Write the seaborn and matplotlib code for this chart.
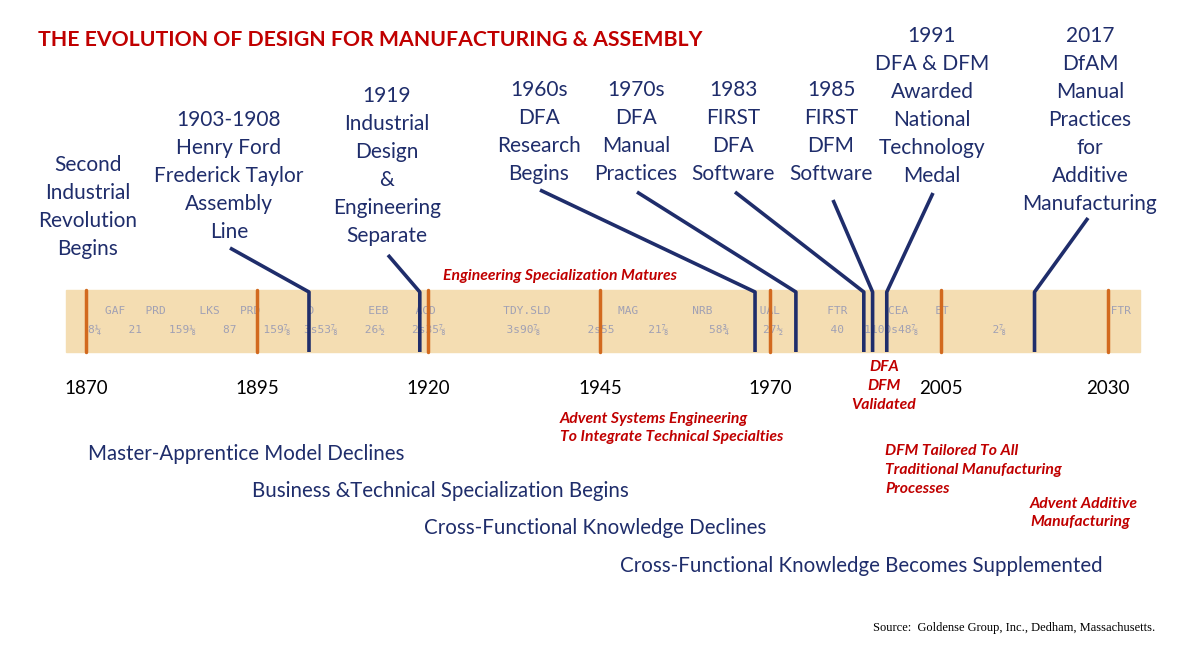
import numpy as np
import matplotlib
matplotlib.use("Agg")
import matplotlib.pyplot as plt
import seaborn as sns

sns.set_theme(style="white")
plt.rcParams['font.family'] = ['Lato', 'DejaVu Sans']

tick_years = [1870, 1895, 1920, 1945, 1970, 2005, 2030]
event_years = [1902.6, 1918.8, 1967.8, 1975.3, 1989.2, 1991.0, 1993.9, 2019.0]
event_labels = [
    "1903-1908\nHenry Ford\nFrederick Taylor\nAssembly\nLine",
    "1919\nIndustrial\nDesign\n&\nEngineering\nSeparate",
    "1960s\nDFA\nResearch\nBegins",
    "1970s\nDFA\nManual\nPractices",
    "1983\nFIRST\nDFA\nSoftware",
    "1985\nFIRST\nDFM\nSoftware",
    "1991\nDFA & DFM\nAwarded\nNational\nTechnology\nMedal",
    "2017\nDfAM\nManual\nPractices\nfor\nAdditive\nManufacturing",
]
first_label = "Second\nIndustrial\nRevolution\nBegins"
red_notes = ["Engineering Specialization Matures",
             "Advent Systems Engineering\nTo Integrate Technical Specialties",
             "DFM Tailored To All\nTraditional Manufacturing\nProcesses",
             "Advent Additive\nManufacturing"]
blue_notes = ["Master-Apprentice Model Declines",
              "Business &Technical Specialization Begins",
              "Cross-Functional Knowledge Declines",
              "Cross-Functional Knowledge Becomes Supplemented"]

NAVY = "#1F2D6B"; RED = "#C00000"; ORANGE = "#D2691E"

slot_px = [86, 257, 428, 600, 770, 941, 1108]
def pos(y):
    return np.interp(y, tick_years, slot_px)

fig = plt.figure(figsize=(12, 6.51), dpi=100)
ax = fig.add_axes([0, 0, 1, 1])
ax.set_xlim(0, 1200); ax.set_ylim(651, 0); ax.axis("off")

ax.text(38, 40, "THE EVOLUTION OF DESIGN FOR MANUFACTURING & ASSEMBLY",
        color=RED, fontsize=15.3, fontweight="bold", va="center")

ax.add_patch(plt.Rectangle((66, 290), 1074, 62, color="#F4DDB2", zorder=1))
ax.text(105, 311, "GAF   PRD     LKS   PRD       D        EEB    ACD          TDY.SLD          MAG        NRB       UAL       FTR      CEA    ET                        FTR",
        color="#a0a0b4", fontsize=8, family="DejaVu Sans Mono", va="center", zorder=2)
ax.text(88, 330, "8¼    21    159⅛    87    159⅞  3s53⅞    26½    2s35⅞         3s90⅞       2s55     21⅞      58¾     27½       40   1100s48⅞           2⅞",
        color="#a0a0b4", fontsize=8, family="DejaVu Sans Mono", va="center", zorder=2)

for ty in tick_years:
    ax.plot([pos(ty)] * 2, [290, 352], color=ORANGE, lw=2.5, zorder=3)
    ax.text(pos(ty), 388, str(ty), ha="center", va="center", fontsize=13.5, color="black")

tops = [(230, 248), (388, 255), (540, 190), (637, 192), (735, 192), (833, 200), (933, 193), (1088, 218)]
label_xy = [(229, 176), (387, 166), (539, 132), (636, 132), (733, 132), (831, 132), (932, 106), (1090, 120)]
for yr, lab, (tx, ty), (lx, ly) in zip(event_years, event_labels, tops, label_xy):
    x = pos(yr)
    ax.plot([tx, x, x], [ty, 292, 352], color=NAVY, lw=2.6, zorder=4, solid_capstyle="butt")
    ax.text(lx, ly, lab, ha="center", va="center", color=NAVY, fontsize=15, linespacing=1.5)
ax.text(88, 207, first_label, ha="center", va="center", color=NAVY, fontsize=15, linespacing=1.5)

rk = dict(color=RED, fontsize=11.3, fontweight="bold", style="italic", va="center", linespacing=1.45)
ax.text(443, 276, red_notes[0], **rk)
ax.text(884, 386, "DFA\nDFM\nValidated", ha="center", **rk)
ax.text(560, 428, red_notes[1], **rk)
ax.text(885, 470, red_notes[2], **rk)
ax.text(1030, 513, red_notes[3], **rk)

for (x, y), t in zip([(88, 454), (252, 491), (424, 528), (620, 566)], blue_notes):
    ax.text(x, y, t, color=NAVY, fontsize=14.8, va="center")

ax.text(1155, 628, "Source:  Goldense Group, Inc., Dedham, Massachusetts.", ha="right",
        va="center", fontsize=9, family="Liberation Serif", color="black")

fig.savefig("out.png", dpi=100)
